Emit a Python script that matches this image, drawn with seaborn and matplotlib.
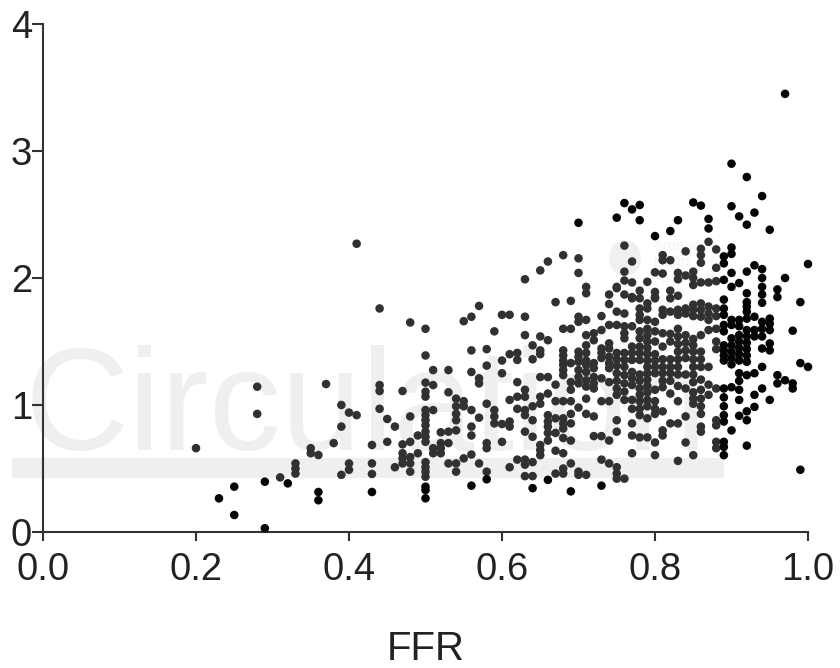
import matplotlib
matplotlib.use("Agg")
import matplotlib.pyplot as plt
from matplotlib.patches import Ellipse, Rectangle
import pandas as pd
import seaborn as sns

# y values read per FFR column (FFR was reported in 0.01 steps)
ffr_low = [0.20, 0.23, 0.25, 0.28, 0.29, 0.31, 0.32, 0.33, 0.35, 0.36, 0.37, 0.38, 0.39, 0.40, 0.41, 0.43, 0.44,
           0.45, 0.46, 0.47, 0.48, 0.49, 0.50]
values_low = [
    [0.66], [0.265], [0.357, 0.134], [1.144, 0.93], [0.396, 0.03], [0.43], [0.383], [0.54, 0.50, 0.46],
    [0.66, 0.62], [0.606, 0.315, 0.25], [1.165], [0.70], [1.0, 0.83, 0.45], [0.94, 0.54, 0.49], [2.27, 0.92],
    [0.685, 0.54, 0.457, 0.315], [1.76, 1.157, 1.11, 0.97], [0.89, 0.71], [0.83, 0.51],
    [1.11, 0.69, 0.62, 0.58, 0.54], [1.65, 0.91, 0.71, 0.59, 0.54, 0.475], [0.76, 0.62],
    [1.6, 1.39, 1.176, 1.105, 1.066, 0.96, 0.92, 0.88, 0.84, 0.79, 0.75, 0.71, 0.55, 0.51, 0.475, 0.435, 0.357,
     0.33, 0.265],
]

ffr_mid = [0.51, 0.52, 0.53, 0.54, 0.55, 0.56, 0.57, 0.58, 0.59, 0.60, 0.61, 0.62, 0.63, 0.64, 0.65, 0.66, 0.67,
           0.68, 0.69, 0.70, 0.71, 0.72, 0.73, 0.74]
values_mid = [
    [1.275, 1.157, 0.96, 0.66, 0.62], [0.785, 0.70, 0.66, 0.62], [1.275, 1.10, 0.79, 0.70, 0.54],
    [1.05, 0.99, 0.93, 0.88, 0.80, 0.54, 0.475], [1.66, 1.03, 0.99, 0.58],
    [1.695, 1.43, 1.26, 0.96, 0.83, 0.76, 0.61, 0.365], [1.78, 1.21, 1.17, 0.90, 0.54],
    [1.44, 1.31, 1.01, 0.70, 0.66, 0.475, 0.415], [1.58, 0.96, 0.91, 0.855], [1.71, 1.35, 1.25, 0.85, 0.71],
    [1.71, 1.40, 1.04, 0.87, 0.83, 0.51], [1.41, 1.355, 1.18, 1.065, 0.97, 0.57],
    [1.99, 1.695, 1.55, 1.12, 1.065, 0.96, 0.92, 0.79, 0.57, 0.53, 0.44],
    [1.47, 1.36, 0.99, 0.88, 0.75, 0.55, 0.44, 0.345],
    [2.06, 1.54, 1.43, 1.40, 1.22, 1.065, 1.01, 0.685, 0.645, 0.605],
    [2.13, 1.51, 1.22, 1.09, 0.92, 0.87, 0.83, 0.78, 0.72, 0.41],
    [1.81, 1.16, 1.03, 0.895, 0.78, 0.64, 0.46],
    [2.18, 1.60, 1.43, 1.39, 1.35, 1.315, 1.275, 1.235, 1.03, 0.895, 0.855, 0.815, 0.74, 0.62, 0.50, 0.46],
    [1.82, 1.60, 1.33, 1.18, 1.12, 1.03, 0.93, 0.855, 0.72, 0.54, 0.32],
    [2.435, 2.155, 2.04, 1.695, 1.655, 1.42, 1.38, 1.34, 1.275, 1.22, 1.17, 0.98, 0.475, 0.45],
    [1.93, 1.88, 1.67, 1.55, 1.47, 1.41, 1.35, 1.315, 1.26, 1.195, 1.145, 1.05, 0.93, 0.45],
    [1.565, 1.51, 1.33, 1.29, 1.22, 1.17, 1.13, 0.91, 0.755],
    [1.70, 1.59, 1.445, 1.41, 1.37, 1.21, 1.03, 0.755, 0.57, 0.365],
    [1.87, 1.795, 1.63, 1.485, 1.445, 1.38, 1.33, 1.29, 1.18, 1.03, 0.72, 0.54],
]

ffr_high = [0.75, 0.76, 0.77, 0.78, 0.79, 0.80, 0.81, 0.82, 0.83, 0.84, 0.85, 0.86, 0.87, 0.88]
values_high = [
    [2.475, 1.93, 1.92, 1.735, 1.63, 1.41, 1.36, 1.31, 1.25, 1.19, 1.13, 1.08, 0.88, 0.79, 0.51, 0.46, 0.42],
    [2.59, 2.255, 2.05, 1.98, 1.87, 1.72, 1.62, 1.565, 1.525, 1.41, 1.355, 1.30, 1.235, 1.17, 1.105, 1.04, 0.42],
    [2.54, 2.13, 1.965, 1.85, 1.84, 1.62, 1.46, 1.41, 1.355, 1.26, 1.21, 1.157, 1.04, 0.97, 0.855, 0.76, 0.62],
    [2.575, 2.455, 1.90, 1.84, 1.76, 1.71, 1.67, 1.58, 1.525, 1.46, 1.41, 1.355, 1.24, 1.19, 1.13, 1.08, 1.03,
     0.97, 0.92, 0.745],
    [1.97, 1.80, 1.76, 1.67, 1.60, 1.55, 1.50, 1.45, 1.40, 1.35, 1.30, 1.25, 1.20, 1.15, 1.10, 1.04, 0.99, 0.895,
     0.745],
    [2.33, 2.045, 1.89, 1.85, 1.84, 1.655, 1.58, 1.50, 1.40, 1.35, 1.30, 1.25, 1.12, 1.03, 0.97, 0.93, 0.705, 0.605],
    [2.18, 2.14, 2.035, 1.75, 1.71, 1.565, 1.46, 1.36, 1.30, 1.25, 1.19, 1.14, 0.95, 0.80, 0.76],
    [2.37, 2.14, 1.90, 1.84, 1.735, 1.56, 1.50, 1.36, 1.30, 1.25, 1.19, 1.09, 0.855],
    [2.455, 2.04, 1.99, 1.86, 1.75, 1.71, 1.60, 1.54, 1.48, 1.42, 1.36, 1.30, 1.24, 1.15, 1.03, 0.855, 0.56],
    [2.21, 2.02, 1.76, 1.72, 1.55, 1.49, 1.43, 1.37, 1.24, 1.13, 0.91, 0.705],
    [2.595, 2.05, 2.0, 1.945, 1.79, 1.75, 1.70, 1.52, 1.47, 1.42, 1.36, 1.30, 1.24, 1.18, 1.10, 1.05, 1.01, 0.605],
    [2.57, 2.23, 2.18, 2.12, 1.965, 1.80, 1.75, 1.695, 1.55, 1.42, 1.36, 1.30, 1.20, 1.12, 1.05, 0.99, 0.93, 0.83,
     0.79],
    [2.465, 2.39, 2.285, 1.965, 1.775, 1.72, 1.67, 1.59, 1.30, 1.16, 1.08],
    [2.225, 2.08, 1.975, 1.76, 1.70, 1.60, 1.50, 1.44, 1.13, 0.88, 0.84, 0.71, 0.66],
]

ffr_top = [0.89, 0.90, 0.91, 0.92, 0.93, 0.94, 0.95, 0.96, 0.97, 0.98, 0.99, 1.00]
values_top = [
    [2.17, 2.115, 1.985, 1.83, 1.76, 1.71, 1.63, 1.58, 1.47, 1.43, 1.39, 1.35, 1.13, 1.06, 0.99, 0.92, 0.87, 0.71,
     0.67, 0.605],
    [2.90, 2.565, 2.24, 2.19, 2.04, 1.93, 1.67, 1.63, 1.525, 1.47, 1.42, 1.37, 1.32, 1.14, 0.80],
    [2.485, 1.96, 1.67, 1.62, 1.55, 1.50, 1.45, 1.40, 1.35, 1.25, 1.19, 1.12, 1.04, 0.915],
    [2.795, 2.42, 2.05, 1.88, 1.81, 1.775, 1.735, 1.68, 1.59, 1.54, 1.49, 1.44, 1.39, 1.34, 1.235, 0.95, 0.88, 0.68],
    [2.515, 2.10, 1.695, 1.59, 1.54, 1.25, 1.08, 0.985],
    [2.645, 2.07, 2.0, 1.93, 1.87, 1.805, 1.655, 1.60, 1.54, 1.445, 1.30, 1.13],
    [2.38, 1.68, 1.64, 1.59, 1.485, 1.43, 1.04],
    [1.91, 1.85, 1.235, 1.17],
    [3.45, 2.0, 1.195],
    [1.585, 1.17, 1.13],
    [1.81, 1.33, 0.49],
    [2.11, 1.30],
]

x_ticks = [0.0, 0.2, 0.4, 0.6, 0.8, 1.0]
y_ticks = [0, 1, 2, 3, 4]


def build_rows():
    rows = []
    for levels, columns in [(ffr_low, values_low), (ffr_mid, values_mid), (ffr_high, values_high), (ffr_top, values_top)]:
        for ffr, column in zip(levels, columns):
            for val in column:
                # points under the watermark box look greyer in the scan
                shade = "black" if ffr >= 0.89 or val < 0.42 or val > 2.32 else "grey"
                rows.append({"ffr": ffr, "value": val, "shade": shade})
    return pd.DataFrame(rows)


df = build_rows()

sns.set_theme(style="ticks")
plt.rcParams["font.family"] = ["Liberation Sans", "DejaVu Sans"]

fig = plt.figure(figsize=(8.4, 6.68), dpi=100)
ax = fig.add_axes([43 / 840, 136 / 668, 765 / 840, 508 / 668])
ax.patch.set_alpha(0)
ax.set_zorder(5)

# faint journal watermark behind the data
wm = "#efefef"
fig.text(25 / 840, 1 - 450 / 668, "Circulation", fontsize=104, color=wm, ha="left", va="baseline", zorder=0)
fig.add_artist(Rectangle((12 / 840, 1 - 478 / 668), 712 / 840, 20 / 668, transform=fig.transFigure,
                         facecolor=wm, edgecolor="none", zorder=0))
fig.add_artist(Ellipse((625 / 840, 1 - 258 / 668), 32 / 840, 36 / 668, transform=fig.transFigure,
                       facecolor="#f0f0f0", edgecolor="none", zorder=0))
fig.text(654 / 840, 1 - 262 / 668, "American\nHeart\nAssociation", fontsize=11, color="#f5f5f5", ha="left",
         va="center", zorder=0)

sns.scatterplot(data=df, x="ffr", y="value", hue="shade", palette={"black": "#050505", "grey": "#333031"},
                s=38, linewidth=0, legend=False, clip_on=False, ax=ax, zorder=3)

ax.set_xlim(0, 1)
ax.set_ylim(0, 4)
ax.set_xticks(x_ticks)
ax.set_xticklabels([f"{t:.1f}" for t in x_ticks])
ax.set_yticks(y_ticks)
ax.tick_params(axis="both", labelsize=27.5, width=1.5, color="#333333", labelcolor="#222222")
ax.tick_params(axis="x", length=6.5, pad=8)
ax.tick_params(axis="y", length=8, pad=0)
ax.set_xlabel("FFR", fontsize=29, color="#222222", labelpad=30)
ax.set_ylabel("")
sns.despine(ax=ax)
for side in ["left", "bottom"]:
    ax.spines[side].set_linewidth(1.5)
    ax.spines[side].set_color("#333333")

plt.savefig("out.png", dpi=100)
